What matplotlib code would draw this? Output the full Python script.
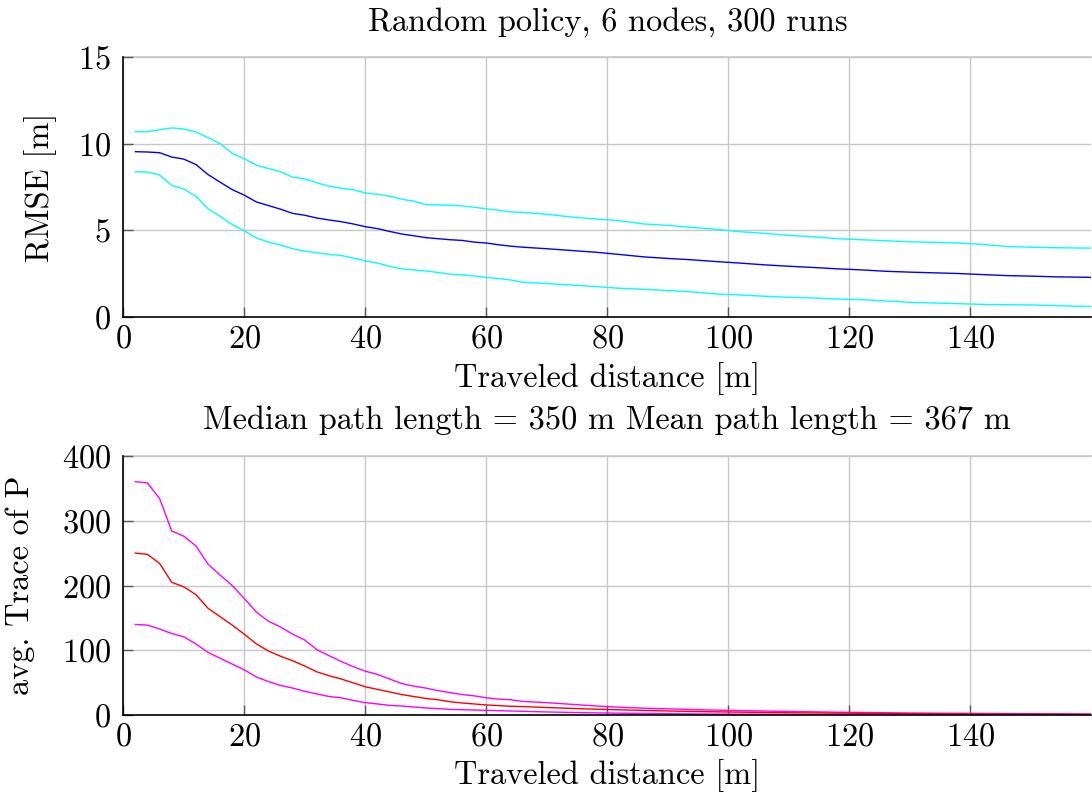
import matplotlib
matplotlib.use("Agg")
import matplotlib.pyplot as plt

plt.rcParams['font.family'] = ['cmr10', 'DejaVu Serif']
plt.rcParams['mathtext.fontset'] = 'cm'
plt.rcParams['axes.formatter.use_mathtext'] = True

# traveled distance [m]
dist = [2, 4, 6, 8, 10, 12, 14, 16, 18, 20, 22, 24, 26, 28, 30, 32,
        34, 36, 38, 40, 42, 44, 46, 48, 50, 52, 54, 56, 58, 60, 62, 64,
        66, 70, 74, 78, 82, 86, 90, 94, 98, 102, 106, 110, 114, 118,
        122, 126, 130, 134, 138, 142, 146, 150, 154, 158, 160]

# RMSE: mean and +/- band
rmse_mean = [9.54, 9.52, 9.48, 9.23, 9.11, 8.80, 8.22, 7.78, 7.35, 7.03, 6.64, 6.43,
             6.22, 5.98, 5.87, 5.71, 5.60, 5.50, 5.37, 5.21, 5.10, 4.94, 4.79, 4.69,
             4.58, 4.52, 4.46, 4.42, 4.32, 4.27, 4.17, 4.09,
             4.03, 3.94, 3.84, 3.74, 3.61, 3.47, 3.38, 3.30, 3.20, 3.11, 3.01, 2.93,
             2.86, 2.78, 2.72, 2.64, 2.59, 2.55, 2.51, 2.45, 2.39, 2.36, 2.32, 2.30, 2.29]
rmse_hi = [10.69, 10.69, 10.81, 10.91, 10.85, 10.68, 10.35, 10.0, 9.44, 9.13, 8.76, 8.57,
           8.38, 8.07, 7.97, 7.74, 7.55, 7.43, 7.34, 7.16, 7.08, 6.97, 6.80, 6.68,
           6.49, 6.47, 6.45, 6.41, 6.33, 6.25, 6.16, 6.06,
           6.04, 5.93, 5.77, 5.66, 5.56, 5.37, 5.29, 5.17, 5.06, 4.92, 4.83, 4.71,
           4.63, 4.52, 4.46, 4.40, 4.34, 4.31, 4.27, 4.19, 4.07, 4.03, 4.00, 3.98, 3.98]
rmse_lo = [8.38, 8.36, 8.20, 7.59, 7.39, 6.97, 6.25, 5.81, 5.33, 4.98, 4.56, 4.32,
           4.15, 3.94, 3.80, 3.71, 3.61, 3.55, 3.40, 3.24, 3.11, 2.93, 2.78, 2.72,
           2.66, 2.57, 2.47, 2.43, 2.37, 2.28, 2.22, 2.14,
           2.01, 1.93, 1.85, 1.76, 1.66, 1.60, 1.53, 1.45, 1.33, 1.27, 1.20, 1.14,
           1.10, 1.04, 1.00, 0.93, 0.85, 0.81, 0.77, 0.73, 0.71, 0.70, 0.66, 0.62, 0.61]

# avg. trace of P: mean and +/- band
trace_mean = [250, 248, 234, 205, 198, 186, 165, 152, 139, 125, 110, 99,
              91, 84, 76, 67, 61, 56, 50, 44, 40, 36, 32, 29,
              26, 24, 21, 19, 17.5, 16, 15, 14,
              13.5, 12, 10.7, 9.5, 8.5, 7.6, 6.7, 6.0, 5.4, 4.9, 4.4, 4.0,
              3.7, 3.4, 3.1, 2.8, 2.5, 2.4, 2.2, 2.0, 1.9, 1.8, 1.7, 1.6, 1.5]
trace_hi = [360, 358, 334, 284, 276, 261, 233, 216, 200, 180, 159, 145,
            136, 125, 116, 101, 92, 83, 75, 68, 63, 56, 49, 45,
            42, 38, 35, 32, 30, 27, 25, 24,
            21.5, 19.5, 17, 14.5, 12.5, 11, 10, 9, 8, 7.3, 6.6, 6.0,
            5.4, 4.8, 4.4, 4.0, 3.6, 3.3, 3.1, 2.9, 2.7, 2.5, 2.3, 2.1, 2.0]
trace_lo = [140, 139, 133, 126, 121, 110, 97, 88, 79, 70, 59, 52,
            46, 42, 37, 33, 29, 27, 23, 19.5, 17.5, 15.4, 14.4, 12.8,
            11.3, 10.3, 9.2, 8.7, 8.2, 7.7, 7.2, 6.7,
            6.2, 5.2, 4.5, 3.8, 3.3, 2.9, 2.5, 2.2, 2.0, 1.8, 1.6, 1.4,
            1.3, 1.2, 1.1, 1.0, 0.95, 0.9, 0.85, 0.8, 0.75, 0.7, 0.65, 0.6, 0.6]

fs = 23.3
fig = plt.figure(figsize=(10.92, 7.92), dpi=100)
ax1 = fig.add_axes([0.1129, 0.5997, 0.8866, 0.3283])
ax2 = fig.add_axes([0.1129, 0.0968, 0.8866, 0.3278])


def style(ax, ylim, yticks):
    ax.set_xlim(0, 160)
    ax.set_ylim(*ylim)
    ax.set_xticks([0, 20, 40, 60, 80, 100, 120, 140])
    ax.set_yticks(yticks)
    ax.grid(True, color='#c8c8c8', linewidth=1.0)
    ax.set_axisbelow(True)
    for s in ['top', 'right']:
        ax.spines[s].set_visible(False)
    ax.spines['left'].set_linewidth(1.2)
    ax.spines['bottom'].set_linewidth(1.2)
    ax.tick_params(direction='in', length=7, width=1.0, color='0.35',
                   labelsize=fs)
    ax.tick_params(axis='x', pad=5)
    ax.tick_params(axis='y', pad=9)
    # light frame line along the top
    ax.axhline(ylim[1], color='#c8c8c8', linewidth=1.2, clip_on=False, zorder=0)


style(ax1, (0, 15), [0, 5, 10, 15])
ax1.plot(dist, rmse_hi, color='cyan', linewidth=1.0)
ax1.plot(dist, rmse_mean, color='blue', linewidth=1.0)
ax1.plot(dist, rmse_lo, color='cyan', linewidth=1.0)
ax1.set_title('Random policy, 6 nodes, 300 runs', fontsize=fs, pad=19)
ax1.set_xlabel('Traveled distance [m]', fontsize=fs)
ax1.set_ylabel('RMSE [m]', fontsize=fs)
ax1.xaxis.set_label_coords(0.5, -0.172)
ax1.yaxis.set_label_coords(-0.068, 0.5)

style(ax2, (0, 400), [0, 100, 200, 300, 400])
ax2.plot(dist, trace_hi, color='magenta', linewidth=1.0)
ax2.plot(dist, trace_mean, color='red', linewidth=1.0)
ax2.plot(dist, trace_lo, color='magenta', linewidth=1.0)
ax2.set_title('Median path length = 350 m Mean path length = 367 m',
              fontsize=fs, pad=19)
ax2.set_xlabel('Traveled distance [m]', fontsize=fs)
ax2.set_ylabel('avg. Trace of P', fontsize=fs)
ax2.xaxis.set_label_coords(0.5, -0.168)
ax2.yaxis.set_label_coords(-0.091, 0.5)

fig.savefig('out.png', dpi=100)
